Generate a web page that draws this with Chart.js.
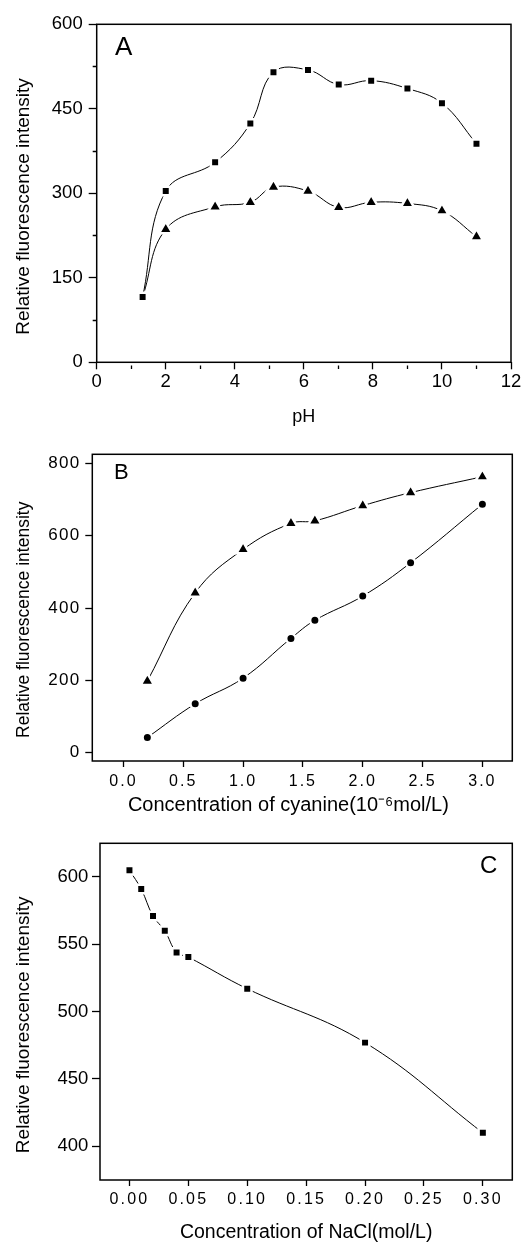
<!DOCTYPE html>
<html>
<head>
<meta charset="utf-8">
<script src="https://cdn.jsdelivr.net/npm/chart.js@4"></script>
<style>
html, body { margin: 0; padding: 0; background: #fff; overflow: hidden; }
.panel { position: absolute; left: 0; width: 524px; }
</style>
</head>
<body>
<div class="panel" style="top:0;height:430px"><canvas id="chartA"></canvas></div>
<div class="panel" style="top:430px;height:390px"><canvas id="chartB"></canvas></div>
<div class="panel" style="top:820px;height:422px"><canvas id="chartC"></canvas></div>
<script>
// Panel A - effect of pH
const phValues    = [1.33, 2.0, 3.43, 4.45, 5.12, 6.12, 7.01, 7.95, 9.0, 10.0, 11.0];
const phSquares   = [116, 304, 355, 424, 515, 519, 493, 500, 486, 460, 388];
const phTriangles = [116, 236, 276, 284, 311, 304, 275, 284, 282, 269, 223];
const phXTicks  = [0, 1, 2, 3, 4, 5, 6, 7, 8, 9, 10, 11, 12];
const phXLabels = [0, 2, 4, 6, 8, 10, 12];
const phYTicks  = [0, 75, 150, 225, 300, 375, 450, 525, 600];
const phYLabels = [0, 150, 300, 450, 600];

// Panel B - concentration of cyanine
const cyanineConc      = [0.2, 0.6, 1.0, 1.4, 1.6, 2.0, 2.4, 3.0];
const cyanineTriangles = [198, 442, 562, 634, 641, 683, 719, 763];
const cyanineCircles   = [42, 135, 206, 316, 366, 433, 525, 687];
const cyanineXTicks = [0, 0.5, 1.0, 1.5, 2.0, 2.5, 3.0];
const cyanineYTicks = [0, 200, 400, 600, 800];

// Panel C - concentration of NaCl
const naclConc    = [0, 0.01, 0.02, 0.03, 0.04, 0.05, 0.10, 0.20, 0.30];
const naclSquares = [605, 591, 571, 560, 544, 540.5, 517, 477, 410];
const naclXTicks = [0, 0.05, 0.10, 0.15, 0.20, 0.25, 0.30];
const naclYTicks = [400, 450, 500, 550, 600];

const FONT = '"Liberation Sans", Arial, sans-serif';

// box around the plot area + the panel letter
const panelDecor = {
    id: 'panelDecor',
    afterDraw(chart, args, opts) {
        const { ctx, chartArea: a } = chart;
        ctx.save();
        ctx.strokeStyle = '#000';
        ctx.lineWidth = 1.5;
        ctx.strokeRect(a.left, a.top, a.right - a.left, a.bottom - a.top);
        ctx.fillStyle = '#000';
        ctx.font = opts.size + 'px ' + FONT;
        ctx.textBaseline = 'alphabetic';
        ctx.fillText(opts.letter, opts.x, opts.y);
        ctx.restore();
    }
};

// the scanned B/C tick labels are wider than plain Arial, so space them out a bit
function spaceLabels(scale, px) {
    if (!px || scale._spaced) return;
    const base = Object.getPrototypeOf(scale).drawLabels;
    scale.drawLabels = function (area) {
        this.ctx.letterSpacing = px + 'px';
        base.call(this, area);
        this.ctx.letterSpacing = '0px';
    };
    scale._spaced = true;
}

function axis(o) {
    const labels = o.labels || o.ticks;
    const minor = o.tickLength / 2;
    return {
        type: 'linear',
        position: o.position,
        min: o.min,
        max: o.max,
        afterFit: s => { if (o.position === 'left') s.width = o.size; else s.height = o.size; },
        afterBuildTicks: s => { s.ticks = o.ticks.map(v => ({ value: v })); },
        afterUpdate: s => spaceLabels(s, o.spacing),
        border: { display: false },
        grid: {
            drawOnChartArea: false,
            drawTicks: true,
            tickLength: o.tickLength,
            tickColor: '#000',
            tickWidth: 1.3,
            // minor ticks: only the half next to the axis
            tickBorderDash: c => (!c.tick || labels.includes(c.tick.value)) ? [] : [0, o.tickLength - minor, minor, 100]
        },
        ticks: {
            autoSkip: false,
            maxRotation: 0,
            padding: o.padding,
            color: '#000',
            font: { family: FONT, size: o.fontSize },
            callback: v => labels.includes(v) ? v.toFixed(o.decimals || 0) : ''
        },
        title: {
            display: true,
            text: o.title,
            color: '#000',
            font: { family: FONT, size: o.titleSize },
            padding: o.titlePad
        }
    };
}

function series(xs, ys, style, r) {
    return {
        data: xs.map((x, i) => ({ x: x, y: ys[i] })),
        borderColor: '#000',
        borderWidth: 1,
        tension: 0.4,
        pointStyle: style,
        pointRadius: r,
        pointBackgroundColor: '#000',
        pointBorderColor: '#fff',
        pointBorderWidth: 2.5,
        clip: false
    };
}

function makeChart(id, cfg) {
    return new Chart(document.getElementById(id), {
        type: 'line',
        data: { datasets: cfg.datasets },
        options: {
            responsive: true,
            maintainAspectRatio: false,
            animation: false,
            layout: { padding: { top: cfg.top, right: cfg.right, left: 0, bottom: 0 } },
            plugins: {
                legend: { display: false },
                tooltip: { enabled: false },
                panelDecor: cfg.decor
            },
            scales: { x: cfg.x, y: cfg.y }
        },
        plugins: [panelDecor]
    });
}

const yTitle = 'Relative fluorescence intensity     ';

makeChart('chartA', {
    top: 24.3, right: 13,
    decor: { letter: 'A', x: 115, y: 55, size: 26 },
    datasets: [
        series(phValues, phSquares, 'rect', 6),
        series(phValues, phTriangles, 'triangle', 7.7)
    ],
    x: axis({ position: 'bottom', min: 0, max: 12, ticks: phXTicks, labels: phXLabels, size: 67.7,
              tickLength: 7, padding: 1.5, fontSize: 18.5,
              title: 'pH', titleSize: 18, titlePad: { bottom: 2.6 } }),
    y: axis({ position: 'left', min: 0, max: 600, ticks: phYTicks, labels: phYLabels, size: 96.7,
              tickLength: 8, padding: 6, fontSize: 18.5,
              title: yTitle, titleSize: 19, titlePad: { top: 12.6 } })
});

makeChart('chartB', {
    top: 24.3, right: 11.7,
    decor: { letter: 'B', x: 114, y: 49, size: 22 },
    datasets: [
        series(cyanineConc, cyanineTriangles, 'triangle', 7.7),
        series(cyanineConc, cyanineCircles, 'circle', 4.75)
    ],
    x: axis({ position: 'bottom', min: -0.26, max: 3.25, ticks: cyanineXTicks, decimals: 1, size: 59,
              tickLength: 6, padding: 4.5, fontSize: 16, spacing: 2,
              title: 'Concentration of cyanine(10\u207B\u2076mol/L)     ', titleSize: 20, titlePad: { bottom: 2.6 } }),
    y: axis({ position: 'left', min: -23, max: 825, ticks: cyanineYTicks, size: 92.3,
              tickLength: 7, padding: 4.7, fontSize: 17, spacing: 1.3,
              title: yTitle, titleSize: 17.5, titlePad: { top: 13.5 } })
});

makeChart('chartC', {
    top: 23.3, right: 11.7,
    decor: { letter: 'C', x: 480, y: 872.5 - 820, size: 24 },
    datasets: [
        series(naclConc, naclSquares, 'rect', 6)
    ],
    x: axis({ position: 'bottom', min: -0.025, max: 0.325, ticks: naclXTicks, decimals: 2, size: 62,
              tickLength: 6, padding: 4.2, fontSize: 16, spacing: 2.2,
              title: 'Concentration of NaCl(mol/L)', titleSize: 19.5, titlePad: { bottom: -2 } }),
    y: axis({ position: 'left', min: 375, max: 625, ticks: naclYTicks, size: 100,
              tickLength: 8, padding: 3.7, fontSize: 18.5,
              title: yTitle, titleSize: 19, titlePad: { top: 12.6 } })
});
</script>
</body>
</html>
